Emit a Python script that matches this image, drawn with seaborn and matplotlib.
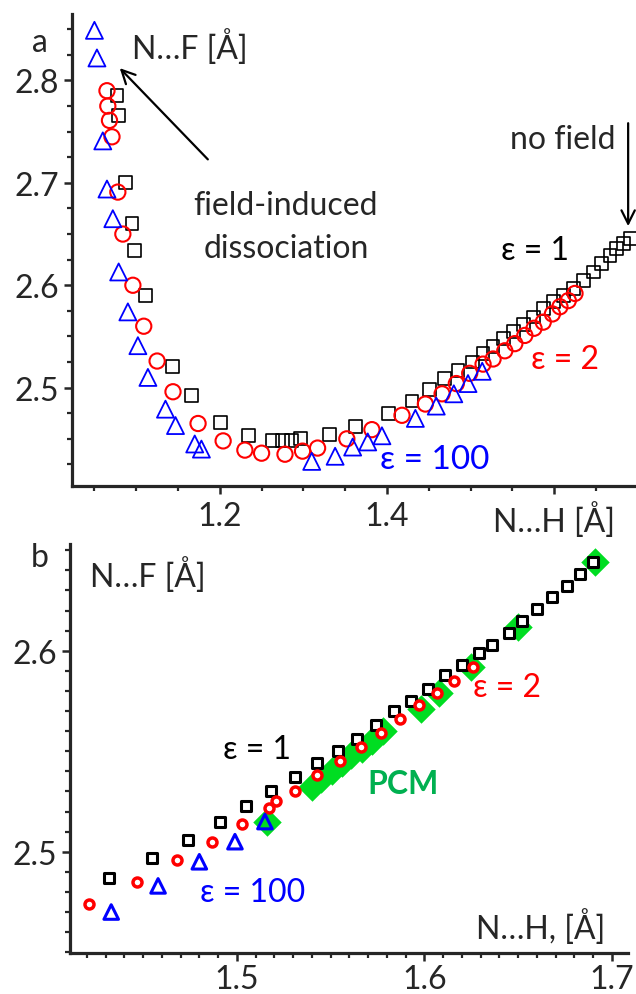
import seaborn as sns
import matplotlib.pyplot as plt
from matplotlib.ticker import MultipleLocator

# panel a: N...F vs N...H distances
a_eps1_x = [1.077, 1.079, 1.087, 1.095, 1.098, 1.111, 1.143, 1.166, 1.201, 1.234, 1.263, 1.275, 1.286,
            1.297, 1.331, 1.362, 1.402, 1.430, 1.451, 1.469, 1.485, 1.502, 1.515, 1.527, 1.539, 1.551,
            1.563, 1.575, 1.587, 1.599, 1.611, 1.623, 1.635, 1.647, 1.657, 1.667, 1.675, 1.683, 1.691]
a_eps1_y = [2.785, 2.766, 2.700, 2.660, 2.634, 2.590, 2.521, 2.492, 2.466, 2.453, 2.448, 2.448, 2.448,
            2.450, 2.454, 2.462, 2.475, 2.487, 2.498, 2.509, 2.517, 2.525, 2.533, 2.540, 2.548, 2.555,
            2.562, 2.569, 2.577, 2.584, 2.590, 2.597, 2.605, 2.613, 2.621, 2.629, 2.636, 2.641, 2.646]

a_eps2_x = [1.065, 1.066, 1.068, 1.071, 1.078, 1.084, 1.096, 1.109, 1.125, 1.144, 1.174, 1.204, 1.230,
            1.250, 1.278, 1.299, 1.317, 1.352, 1.382, 1.418, 1.446, 1.466, 1.483, 1.499, 1.515, 1.527,
            1.541, 1.553, 1.565, 1.576, 1.587, 1.598, 1.607, 1.617, 1.625]
a_eps2_y = [2.790, 2.775, 2.761, 2.745, 2.691, 2.650, 2.600, 2.560, 2.526, 2.496, 2.465, 2.448, 2.439,
            2.436, 2.435, 2.438, 2.441, 2.450, 2.459, 2.473, 2.484, 2.494, 2.504, 2.514, 2.523, 2.528,
            2.536, 2.543, 2.551, 2.558, 2.564, 2.572, 2.579, 2.585, 2.592]

a_eps100_x = [1.050, 1.053, 1.060, 1.065, 1.072, 1.079, 1.090, 1.102, 1.114, 1.135, 1.147, 1.170, 1.178,
              1.310, 1.338, 1.359, 1.377, 1.394, 1.434, 1.459, 1.480, 1.497, 1.514]
a_eps100_y = [2.849, 2.822, 2.741, 2.694, 2.665, 2.613, 2.574, 2.541, 2.510, 2.479, 2.463, 2.445, 2.440,
              2.428, 2.433, 2.442, 2.447, 2.453, 2.470, 2.482, 2.494, 2.504, 2.516]

# panel b: zoom on the weak-field part, with PCM
b_eps1_x = [1.432, 1.455, 1.474, 1.491, 1.505, 1.518, 1.531, 1.543, 1.554, 1.564, 1.574, 1.584, 1.593,
            1.602, 1.611, 1.620, 1.629, 1.636, 1.645, 1.652, 1.660, 1.668, 1.676, 1.683, 1.690]
b_eps1_y = [2.487, 2.497, 2.506, 2.515, 2.523, 2.530, 2.537, 2.544, 2.550, 2.556, 2.563, 2.570, 2.575,
            2.581, 2.588, 2.593, 2.599, 2.603, 2.609, 2.615, 2.621, 2.627, 2.632, 2.638, 2.644]

b_eps2_x = [1.421, 1.447, 1.468, 1.487, 1.503, 1.517, 1.521, 1.531, 1.543, 1.555, 1.566, 1.577, 1.587,
            1.597, 1.607, 1.616, 1.626]
b_eps2_y = [2.474, 2.485, 2.496, 2.505, 2.514, 2.522, 2.525, 2.530, 2.538, 2.545, 2.552, 2.559, 2.566,
            2.573, 2.579, 2.585, 2.592]

b_eps100_x = [1.433, 1.458, 1.480, 1.499, 1.515]
b_eps100_y = [2.470, 2.483, 2.495, 2.505, 2.515]

pcm_x = [1.516, 1.540, 1.545, 1.551, 1.556, 1.561, 1.567, 1.572, 1.578, 1.598, 1.608, 1.625, 1.650, 1.691]
pcm_y = [2.515, 2.532, 2.536, 2.540, 2.544, 2.548, 2.551, 2.555, 2.560, 2.571, 2.579, 2.592, 2.612, 2.644]

sns.set_style('ticks')
plt.rcParams['font.family'] = ['Lato', 'DejaVu Sans']
FS = 23

RED = '#ff0000'
BLUE = '#0000ff'
GREEN = '#00dd22'
PCM_TXT = '#00b050'

fig = plt.figure(figsize=(6.36, 9.95), dpi=100)
ax_a = fig.add_axes([0.113, 0.5106, 0.887, 0.4744])
ax_b = fig.add_axes([0.110, 0.041, 0.877, 0.411])


def style_axes(ax):
    sns.despine(ax=ax)
    for s in ['left', 'bottom']:
        ax.spines[s].set_linewidth(2.3)
    ax.tick_params(which='major', direction='out', length=6, width=1.8, labelsize=FS)
    ax.tick_params(which='minor', direction='out', length=3.5, width=1.6)
    ax.tick_params(axis='x', which='major', pad=2)
    ax.tick_params(axis='y', which='major', pad=3)
    ax.set_xlabel('')
    ax.set_ylabel('')


# ---- panel a ----
sns.scatterplot(x=a_eps1_x, y=a_eps1_y, marker='s', s=85, color='black', facecolors='none',
                edgecolor='black', linewidth=1.2, ax=ax_a, zorder=3)
sns.scatterplot(x=a_eps2_x, y=a_eps2_y, marker='o', s=120, color=RED, facecolors='none',
                edgecolor=RED, linewidth=1.5, ax=ax_a, zorder=4)
sns.scatterplot(x=a_eps100_x, y=a_eps100_y, marker='^', s=150, color=BLUE, facecolors='none',
                edgecolor=BLUE, linewidth=1.3, ax=ax_a, zorder=5)

ax_a.set_xlim(1.023, 1.698)
ax_a.set_ylim(2.404, 2.865)
ax_a.xaxis.set_major_locator(MultipleLocator(0.2))
ax_a.xaxis.set_minor_locator(MultipleLocator(0.05))
ax_a.yaxis.set_major_locator(MultipleLocator(0.1))
ax_a.yaxis.set_minor_locator(MultipleLocator(0.025))
style_axes(ax_a)
ax_a.tick_params(axis='x', which='major', pad=5)
ax_a.set_xticks([1.2, 1.4, 1.6])
ax_a.set_xticklabels(['1.2', '1.4', 'N…H [Å]'])

ax_a.text(-0.057, 0.94, 'a', transform=ax_a.transAxes, ha='center', va='center', fontsize=FS)
ax_a.text(1.095, 2.834, 'N…F [Å]', ha='left', va='center', fontsize=FS)
ax_a.text(1.279, 2.678, 'field-induced', ha='center', va='center', fontsize=FS)
ax_a.text(1.279, 2.636, 'dissociation', ha='center', va='center', fontsize=FS)
ax_a.annotate('', xy=(1.078, 2.814), xytext=(1.188, 2.721),
              arrowprops=dict(arrowstyle='->', color='black', lw=1.6, mutation_scale=24))
ax_a.text(1.673, 2.743, 'no field', ha='right', va='center', fontsize=FS)
ax_a.annotate('', xy=(1.6886, 2.655), xytext=(1.6886, 2.761),
              arrowprops=dict(arrowstyle='->', color='black', lw=1.6, mutation_scale=24))
ax_a.text(1.577, 2.634, 'ε = 1', ha='center', va='center', fontsize=FS, color='black')
ax_a.text(1.613, 2.528, 'ε = 2', ha='center', va='center', fontsize=FS, color=RED)
ax_a.text(1.457, 2.430, 'ε = 100', ha='center', va='center', fontsize=FS + 1, color=BLUE)

# ---- panel b ----
sns.scatterplot(x=pcm_x, y=pcm_y, marker='D', s=210, color=GREEN, edgecolor=GREEN,
                linewidth=0, ax=ax_b, zorder=2)
sns.scatterplot(x=b_eps1_x, y=b_eps1_y, marker='s', s=48, color='black', facecolors='white',
                edgecolor='black', linewidth=2.2, ax=ax_b, zorder=3)
sns.scatterplot(x=b_eps2_x, y=b_eps2_y, marker='o', s=42, color=RED, facecolors='white',
                edgecolor=RED, linewidth=2.5, ax=ax_b, zorder=4)
sns.scatterplot(x=b_eps100_x, y=b_eps100_y, marker='^', s=110, color=BLUE, facecolors='none',
                edgecolor=BLUE, linewidth=2.2, ax=ax_b, zorder=5)

ax_b.set_xlim(1.411, 1.7085)
ax_b.set_ylim(2.4495, 2.653)
ax_b.xaxis.set_major_locator(MultipleLocator(0.1))
ax_b.xaxis.set_minor_locator(MultipleLocator(0.01))
ax_b.yaxis.set_major_locator(MultipleLocator(0.1))
ax_b.yaxis.set_minor_locator(MultipleLocator(0.01))
style_axes(ax_b)

ax_b.text(-0.054, 0.969, 'b', transform=ax_b.transAxes, ha='center', va='center', fontsize=FS)
ax_b.text(1.4216, 2.638, 'N…F [Å]', ha='left', va='center', fontsize=FS)
ax_b.text(1.662, 2.463, 'N…H, [Å]', ha='center', va='center', fontsize=FS)
ax_b.text(1.5107, 2.551, 'ε = 1', ha='center', va='center', fontsize=FS, color='black')
ax_b.text(1.644, 2.582, 'ε = 2', ha='center', va='center', fontsize=FS, color=RED)
ax_b.text(1.5085, 2.480, 'ε = 100', ha='center', va='center', fontsize=FS, color=BLUE)
ax_b.text(1.5885, 2.534, 'PCM', ha='center', va='center', fontsize=FS, color=PCM_TXT,
          fontweight='bold')

plt.savefig('out.png', dpi=100)
